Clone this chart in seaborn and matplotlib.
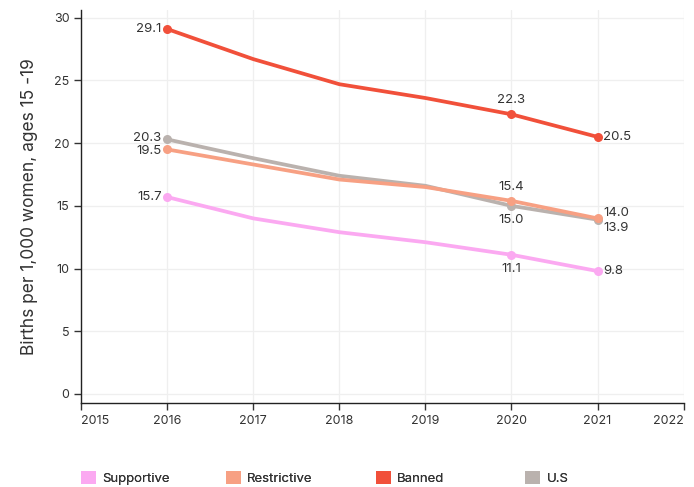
import pandas as pd
import numpy as np
import matplotlib
matplotlib.use('Agg')
import matplotlib.pyplot as plt
from matplotlib.patches import Patch
import seaborn as sns

# datos
years = [2016, 2017, 2018, 2019, 2020, 2021]
supportive = [15.7, 14.0, 12.9, 12.1, 11.1, 9.8]
restrictive = [19.5, 18.3, 17.1, 16.5, 15.4, 14.0]
banned = [29.1, 26.7, 24.7, 23.6, 22.3, 20.5]
us = [20.3, 18.8, 17.4, 16.6, 15.0, 13.9]

series_names = ['Supportive', 'Restrictive', 'Banned', 'U.S']
colores = ['#fba9f1', '#f7a083', '#f1503a', '#bab2ae']
x_ticks = [2015, 2016, 2017, 2018, 2019, 2020, 2021, 2022]
y_ticks = [0, 5, 10, 15, 20, 25, 30]

sns.set_style('white')
plt.rcParams['font.family'] = ['Inter', 'DejaVu Sans']
texto = '#333333'

df = pd.DataFrame({'year': years * 4,
                   'value': supportive + restrictive + banned + us,
                   'grupo': sum([[n] * len(years) for n in series_names], [])})

fig = plt.figure(figsize=(6.94, 4.87), dpi=100)
ax = fig.add_axes([0.117, 0.173, 0.868, 0.806])

# orden de dibujo: restrictive encima del gris
orden_dibujo = ['U.S', 'Supportive', 'Restrictive', 'Banned']
for nombre in orden_dibujo:
    i = series_names.index(nombre)
    sub = df[df['grupo'] == nombre]
    sns.lineplot(data=sub, x='year', y='value', color=colores[i], linewidth=2.7,
                 ax=ax, legend=False)
    # puntos solo en los años etiquetados
    pts = sub[sub['year'].isin([2016, 2020, 2021])]
    ax.scatter(pts['year'], pts['value'], color=colores[i], s=30, zorder=5)

# etiquetas de valores
fs = 9.5
def etiqueta(x, y, txt, dx, dy, ha, va):
    ax.annotate(txt, (x, y), xytext=(dx, dy), textcoords='offset points',
                ha=ha, va=va, fontsize=fs, color=texto)

etiqueta(2016, banned[0], '29.1', -4, 0, 'right', 'center')
etiqueta(2016, us[0], '20.3', -4, 1, 'right', 'center')
etiqueta(2016, restrictive[0], '19.5', -4, -1, 'right', 'center')
etiqueta(2016, supportive[0], '15.7', -4, 0, 'right', 'center')
etiqueta(2020, banned[4], '22.3', 0, 6, 'center', 'bottom')
etiqueta(2021, banned[5], '20.5', 4, 0, 'left', 'center')
etiqueta(2020, restrictive[4], '15.4', 0, 6, 'center', 'bottom')
etiqueta(2020, us[4], '15.0', 0, -6, 'center', 'top')
etiqueta(2021, restrictive[5], '14.0', 4, 4, 'left', 'center')
etiqueta(2021, us[5], '13.9', 4, -6, 'left', 'center')
etiqueta(2020, supportive[4], '11.1', 0, -6, 'center', 'top')
etiqueta(2021, supportive[5], '9.8', 4, 0, 'left', 'center')

ax.set_xlim(2015, 2022)
ax.set_ylim(-0.7, 30.6)
ax.set_xticks(x_ticks)
ax.set_yticks(y_ticks)
ax.tick_params(axis='both', labelsize=9, colors=texto, length=5, width=1,
               direction='out', left=True, bottom=True)
ax.tick_params(axis='x', pad=4)
# las etiquetas de los extremos hacia adentro
xlabels = ax.get_xticklabels()
xlabels[0].set_ha('left')
xlabels[-1].set_ha('right')
ax.grid(True, color='#efefef', linewidth=0.9)
ax.set_axisbelow(True)
for lado in ['top', 'right']:
    ax.spines[lado].set_visible(False)
for lado in ['left', 'bottom']:
    ax.spines[lado].set_color('#222222')
    ax.spines[lado].set_linewidth(1)
ax.set_xlabel('')
ax.set_ylabel('Births per 1,000 women, ages 15 -19', fontsize=12.5, color=texto, labelpad=11)

# leyenda abajo, una entrada por posicion
x_leyenda = [0.117, 0.326, 0.542, 0.757]
for c, n, xl in zip(colores, series_names, x_leyenda):
    leg = fig.legend([Patch(facecolor=c, edgecolor='none')], [n], loc='center left',
                     bbox_to_anchor=(xl, 0.018), frameon=False, fontsize=9.5,
                     handlelength=1.1, handleheight=1.1, handletextpad=0.5,
                     labelcolor=texto, borderaxespad=0, borderpad=0)
    fig.add_artist(leg)

fig.savefig('out.png', dpi=100)
